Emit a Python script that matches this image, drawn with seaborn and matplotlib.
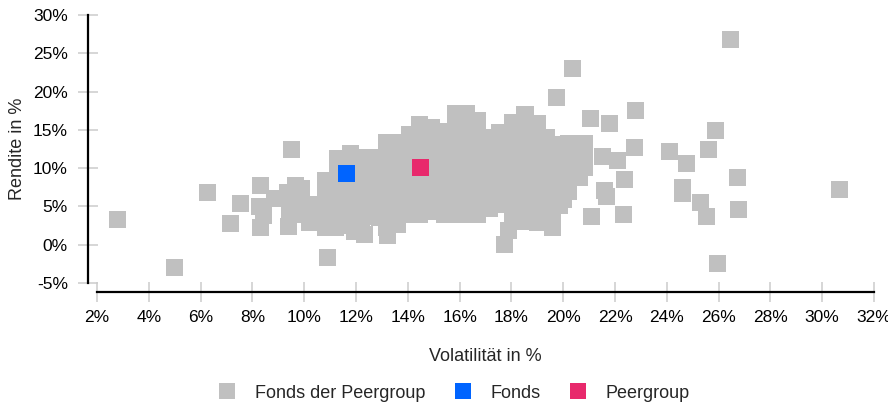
import numpy as np
import pandas as pd
import matplotlib
matplotlib.use("Agg")
import matplotlib.pyplot as plt
from matplotlib.lines import Line2D
import seaborn as sns

# ---------------- data (volatility %, return %) ----------------
peer_vol = [
    2.79, 4.99, 6.27, 7.54, 7.15, 8.31, 8.31, 8.27, 8.85, 8.43, 9.51, 9.39, 9.36, 9.68, 9.57,
    10.9, 10.2, 11.2, 11.94, 12.33, 13.22, 12.91, 13.53,
    9.45, 9.45,
    9.9, 9.9, 9.9,
    10.4, 10.4, 10.4,
    10.84, 10.84, 10.84, 10.84, 10.84,
    11.3, 11.3, 11.3, 11.3, 11.3, 11.3,
    11.77, 11.77, 11.77, 11.77, 11.77, 11.77, 11.77,
    12.23, 12.23, 12.23, 12.23, 12.23, 12.23, 12.23,
    12.7, 12.7, 12.7, 12.7, 12.7, 12.7,
    13.16, 13.16, 13.16, 13.16, 13.16, 13.16, 13.16, 13.16,
    13.62, 13.62, 13.62, 13.62, 13.62, 13.62, 13.62, 13.62,
    14.08, 14.08, 14.08, 14.08, 14.08, 14.08, 14.08, 14.08,
    14.47, 14.47, 14.47, 14.47, 14.47, 14.47, 14.47, 14.47, 14.47,
    14.93, 14.93, 14.93, 14.93, 14.93, 14.93, 14.93, 14.93,
    15.4, 15.4, 15.4, 15.4, 15.4, 15.4, 15.4, 15.4,
    15.86, 15.86, 15.86, 15.86, 15.86, 15.86, 15.86, 15.86, 15.86, 15.86,
    16.25, 16.25, 16.25, 16.25, 16.25, 16.25, 16.25, 16.25, 16.25,
    16.71, 16.71, 16.71, 16.71, 16.71, 16.71, 16.71, 16.71, 16.71,
    17.17, 17.17, 17.17, 17.17, 17.17, 17.17, 17.17,
    17.56, 17.56, 17.56, 17.56, 17.56, 17.56, 17.56,
    18.06, 18.06, 18.06, 18.06, 18.06, 18.06, 18.06, 18.06, 18.06,
    18.52, 18.52, 18.52, 18.52, 18.52, 18.52, 18.52, 18.52, 18.52, 18.52,
    18.99, 18.99, 18.99, 18.99, 18.99, 18.99, 18.99, 18.99, 18.99,
    19.37, 19.37, 19.37, 19.37, 19.37, 19.37, 19.37,
    19.84, 19.84, 19.84, 19.84, 19.84, 19.84,
    20.22, 20.22, 20.22, 20.22, 20.22,
    20.84, 20.84, 20.84,
    19.74, 20.36, 21.05, 21.79, 22.79, 22.75, 21.52, 22.1, 22.37, 21.59, 21.67, 21.09, 22.33,
    20.63, 20.01, 19.59, 19.59, 17.89, 17.73, 18.54, 24.1, 24.76, 24.6, 24.6, 25.3, 25.53,
    25.61, 25.88, 26.73, 26.77, 26.46, 30.67, 25.96,
]
peer_ret = [
    3.33, -2.94, 6.85, 5.42, 2.81, 7.77, 2.28, 5.03, 6.07, 3.85, 12.47, 2.42, 6.85, 7.7, 3.98,
    -1.63, 2.94, 2.28, 1.76, 1.37, 1.24, 3.59, 2.68,
    5.6, 4.6,
    7.3, 5.8, 4.4,
    5.2, 3.9, 3.0,
    8.4, 6.8, 5.2, 3.7, 2.3,
    11.2, 9.7, 8.1, 6.5, 5.0, 3.4,
    11.9, 10.3, 8.7, 7.2, 5.6, 4.0, 2.5,
    11.4, 9.8, 8.2, 6.7, 5.1, 3.5, 2.0,
    11.4, 9.8, 8.2, 6.7, 5.1, 3.7,
    13.3, 11.7, 10.2, 8.6, 7.0, 5.5, 3.9, 2.3,
    13.3, 11.7, 10.2, 8.6, 7.0, 5.5, 3.9, 2.6,
    14.4, 12.8, 11.2, 9.7, 8.1, 6.5, 5.0, 3.9,
    15.7, 14.1, 12.5, 11.0, 9.4, 7.8, 6.3, 5.0, 3.9,
    15.3, 13.7, 12.1, 10.6, 9.0, 7.4, 5.9, 4.3,
    14.8, 13.2, 11.6, 10.1, 8.5, 6.9, 5.4, 4.0,
    17.2, 15.7, 14.1, 12.5, 11.0, 9.4, 7.8, 6.3, 4.7, 3.9,
    17.2, 15.5, 13.8, 12.1, 10.4, 8.7, 7.0, 5.4, 4.0,
    16.2, 14.6, 13.1, 11.5, 9.9, 8.4, 6.8, 5.2, 3.9,
    14.0, 12.4, 10.8, 9.3, 7.7, 6.1, 4.7,
    14.6, 13.1, 11.5, 9.9, 8.4, 6.8, 5.2,
    15.9, 14.4, 12.8, 11.2, 9.7, 8.1, 6.5, 5.0, 3.8,
    17.0, 15.4, 13.8, 12.3, 10.7, 9.1, 7.6, 6.0, 4.4, 3.0,
    15.8, 14.2, 12.7, 11.1, 9.5, 8.0, 6.4, 4.8, 2.9,
    14.0, 12.4, 10.8, 9.3, 7.7, 6.1, 4.6,
    13.1, 11.5, 9.9, 8.4, 6.8, 5.1,
    13.2, 11.6, 10.1, 8.5, 6.9,
    13.2, 11.6, 10.1,
    19.26, 23.04, 16.51, 15.86, 17.56, 12.73, 11.55, 11.03, 8.55, 7.11, 6.33, 3.72, 3.98,
    8.81, 5.94, 3.98, 2.28, 1.89, 0.07, 17.04, 12.21, 10.64, 7.51, 6.72, 5.55, 3.72,
    12.47, 14.88, 8.81, 4.63, 26.83, 7.25, -2.42,
]
fund_vol = [11.63]
fund_ret = [9.27]
group_vol = [14.49]
group_ret = [10.12]

labels = ["Fonds der Peergroup", "Fonds", "Peergroup"]
colors = ["#c0c0c0", "#0064ff", "#e8296c"]
x_ticks = list(range(2, 33, 2))
y_ticks = list(range(-5, 31, 5))

df = pd.DataFrame({
    "vol": peer_vol + fund_vol + group_vol,
    "ret": peer_ret + fund_ret + group_ret,
    "grp": [labels[0]] * len(peer_vol) + [labels[1]] * len(fund_vol) + [labels[2]] * len(group_vol),
})

# ---------------- style ----------------
sns.set_style("white")
plt.rcParams["font.family"] = ["Liberation Sans", "DejaVu Sans"]
FS_TICK = 12.5
FS = 13

fig = plt.figure(figsize=(8.88, 4.03), dpi=100)
ax = fig.add_axes([97 / 888, 1 - 283 / 403, (874 - 97) / 888, (283 - 15) / 403])

sns.scatterplot(data=df, x="vol", y="ret", hue="grp", hue_order=labels,
                palette=dict(zip(labels, colors)), marker="s", s=150,
                linewidth=0, alpha=1, legend=False, ax=ax, zorder=3)

ax.set_xlim(2, 32)
ax.set_ylim(-5, 30)
ax.set_xticks(x_ticks)
ax.set_xticklabels([f"{v}%" for v in x_ticks])
ax.set_yticks(y_ticks)
ax.set_yticklabels([f"{v}%" for v in y_ticks])
ax.set_xlabel("Volatilität in %", fontsize=FS, labelpad=16.5)
ax.set_ylabel("Rendite in %", fontsize=FS, labelpad=5)

for side in ["top", "right"]:
    ax.spines[side].set_visible(False)
for side in ["left", "bottom"]:
    ax.spines[side].set_visible(True)
    ax.spines[side].set_color("black")
    ax.spines[side].set_linewidth(1.6)
    ax.spines[side].set_position(("outward", 6.5))

ax.tick_params(axis="both", which="major", direction="inout", length=15,
               width=1.1, color="#cccccc", labelcolor="black", labelsize=FS_TICK)
ax.tick_params(axis="y", pad=7.0, left=True)
ax.tick_params(axis="x", pad=5.5, bottom=True)
ax.grid(False)

handles = [Line2D([0], [0], marker="s", linestyle="none", markersize=12.2,
                  markerfacecolor=c, markeredgewidth=0) for c in colors]
fig.legend(handles, labels, loc="center", bbox_to_anchor=(454 / 888, 1 - 393 / 403),
           ncol=3, frameon=False, fontsize=FS, handlelength=0.95,
           handletextpad=1.05, columnspacing=1.6, borderpad=0, borderaxespad=0)

fig.savefig("out.png", dpi=100)
